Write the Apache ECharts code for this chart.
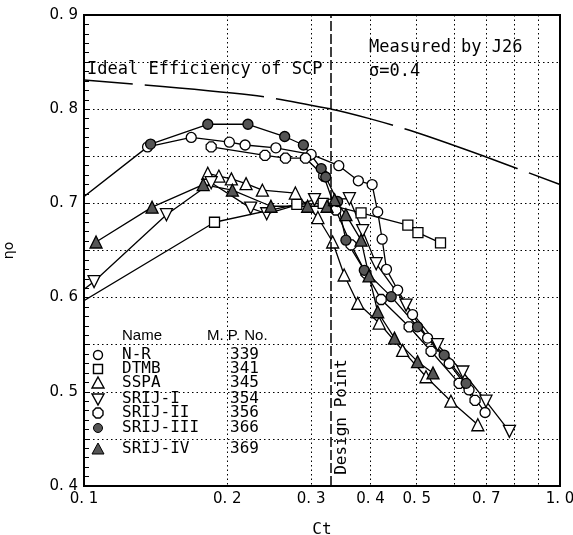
<!DOCTYPE html>
<html>
<head>
<meta charset="utf-8">
<script src="https://cdn.jsdelivr.net/npm/echarts@6/dist/echarts.min.js"></script>
<style>
html,body{margin:0;padding:0;background:#fff;}
#chart{width:573px;height:535px;}
</style>
</head>
<body>
<div id="chart"></div>
<script>
// axis ticks
var xGrid = [0.1, 0.2, 0.3, 0.4, 0.5, 0.6, 0.7, 0.8, 0.9, 1.0];
var xLabels = [0.1, 0.2, 0.3, 0.4, 0.5, 0.7, 1.0];
var designCt = 0.332;

// ideal efficiency of SCP
var idealCt  = [0.1, 0.224, 0.331, 0.398, 0.494, 0.693, 1.0];
var idealEta = [0.831, 0.815, 0.800, 0.790, 0.776, 0.750, 0.720];

// measured series (Ct, eta)
var nrCt  = [0.092, 0.136, 0.168, 0.202, 0.218, 0.253, 0.300, 0.343, 0.377, 0.403, 0.414, 0.423, 0.432, 0.456, 0.490, 0.527, 0.585, 0.644, 0.696];
var nrEta = [0.693, 0.760, 0.770, 0.765, 0.762, 0.759, 0.752, 0.740, 0.724, 0.720, 0.691, 0.662, 0.630, 0.608, 0.582, 0.557, 0.530, 0.502, 0.478];

var dtmbCt  = [0.09, 0.188, 0.280, 0.318, 0.382, 0.479, 0.503, 0.561];
var dtmbEta = [0.583, 0.680, 0.699, 0.700, 0.690, 0.677, 0.669, 0.658];

var sspaCt  = [0.182, 0.192, 0.204, 0.219, 0.237, 0.278, 0.310, 0.333, 0.352, 0.376, 0.417, 0.467, 0.523, 0.590, 0.672];
var sspaEta = [0.732, 0.729, 0.726, 0.721, 0.714, 0.711, 0.685, 0.659, 0.624, 0.594, 0.573, 0.544, 0.516, 0.490, 0.465];

var srij1Ct  = [0.095, 0.105, 0.149, 0.185, 0.224, 0.242, 0.305, 0.361, 0.385, 0.411, 0.475, 0.553, 0.625, 0.699, 0.783];
var srij1Eta = [0.600, 0.617, 0.688, 0.722, 0.695, 0.689, 0.704, 0.705, 0.671, 0.636, 0.592, 0.550, 0.521, 0.490, 0.458];

var srij2Ct  = [0.185, 0.240, 0.265, 0.292, 0.319, 0.338, 0.364, 0.391, 0.421, 0.482, 0.536, 0.614, 0.663];
var srij2Eta = [0.760, 0.751, 0.748, 0.748, 0.729, 0.693, 0.656, 0.626, 0.598, 0.569, 0.543, 0.509, 0.491];

var srij3Ct  = [0.138, 0.182, 0.221, 0.264, 0.289, 0.315, 0.322, 0.341, 0.355, 0.388, 0.442, 0.502, 0.571, 0.635];
var srij3Eta = [0.763, 0.784, 0.784, 0.771, 0.762, 0.737, 0.728, 0.702, 0.661, 0.629, 0.601, 0.569, 0.539, 0.509];

var srij4Ct  = [0.106, 0.139, 0.178, 0.205, 0.247, 0.295, 0.324, 0.336, 0.355, 0.382, 0.397, 0.414, 0.449, 0.502, 0.541];
var srij4Eta = [0.659, 0.696, 0.720, 0.714, 0.697, 0.697, 0.697, 0.704, 0.688, 0.661, 0.623, 0.585, 0.557, 0.532, 0.520];

var names = ['N-R', 'DTMB', 'SSPA', 'SRIJ-I', 'SRIJ-II', 'SRIJ-III', 'SRIJ-IV'];
var mpNos = ['339', '341', '345', '354', '356', '366', '369'];

function zip(a, b) {
    var out = [];
    for (var i = 0; i < a.length; i++) out.push([a[i], b[i]]);
    return out;
}
function fmt(v) {
    return v.toFixed(1).replace('.', '. ');
}

var octagon = 'path://M3,0 L7,0 L10,3 L10,7 L7,10 L3,10 L0,7 L0,3 Z';
var gray = '#555';

function measured(name, ct, eta, symbol, fill, size, rot) {
    return {
        name: name,
        type: 'line',
        data: zip(ct, eta),
        symbol: symbol,
        symbolSize: size,
        symbolRotate: rot || 0,
        showAllSymbol: true,
        clip: true,
        lineStyle: {color: '#000', width: 1.3},
        itemStyle: {color: fill, borderColor: '#000', borderWidth: 1.3}
    };
}

var myChart = echarts.init(document.getElementById('chart'));

var mono = 'DejaVu Sans Mono';
var legendY = [355, 369, 383, 399, 413, 428, 449];
var legendX = 98;

function legendMark(i, y) {
    var s = {stroke: '#000', lineWidth: 1.4, fill: '#fff'};
    var x = legendX;
    if (i == 0) return {type: 'circle', shape: {cx: x, cy: y, r: 4.5}, style: s};
    if (i == 1) return {type: 'rect', shape: {x: x - 4.5, y: y - 4.5, width: 9, height: 9}, style: s};
    if (i == 2) return {type: 'polygon', shape: {points: [[x, y - 6], [x + 6, y + 5], [x - 6, y + 5]]}, style: s};
    if (i == 3) return {type: 'polygon', shape: {points: [[x - 6, y - 5], [x + 6, y - 5], [x, y + 6]]}, style: s};
    if (i == 4) return {type: 'polygon', shape: {points: [[x - 2, y - 5], [x + 2, y - 5], [x + 5, y - 2], [x + 5, y + 2], [x + 2, y + 5], [x - 2, y + 5], [x - 5, y + 2], [x - 5, y - 2]]}, style: s};
    if (i == 5) return {type: 'circle', shape: {cx: x, cy: y, r: 4.5}, style: {stroke: '#000', lineWidth: 1, fill: gray}};
    return {type: 'polygon', shape: {points: [[x, y - 6], [x + 6, y + 5], [x - 6, y + 5]]}, style: {stroke: '#000', lineWidth: 1, fill: gray}};
}

var graphics = [
    {type: 'text', left: 87, top: 61, style: {text: 'Ideal Efficiency of SCP', font: '17px "' + mono + '"', fill: '#000'}},
    {type: 'text', left: 369, top: 39, style: {text: 'Measured by J26', font: '17px "' + mono + '"', fill: '#000'}},
    {type: 'text', left: 369, top: 63, style: {text: 'σ=0.4', font: '17px "' + mono + '"', fill: '#000'}},
    {type: 'text', x: 342, y: 417, rotation: Math.PI / 2, style: {text: 'Design Point', font: '16px "' + mono + '"', fill: '#000', align: 'center', verticalAlign: 'middle'}},
    {type: 'text', left: 122, top: 328, style: {text: 'Name', font: '15px "Liberation Sans"', fill: '#000'}},
    {type: 'text', left: 207, top: 328, style: {text: 'M. P. No.', font: '15px "Liberation Sans"', fill: '#000'}}
];
for (var i = 0; i < names.length; i++) {
    graphics.push(legendMark(i, legendY[i]));
    graphics.push({type: 'text', x: 122, y: legendY[i], style: {text: names[i], font: '16px "' + mono + '"', fill: '#000', verticalAlign: 'middle'}});
    graphics.push({type: 'text', x: 230, y: legendY[i], style: {text: mpNos[i], font: '16px "' + mono + '"', fill: '#000', verticalAlign: 'middle'}});
}

var option = {
    animation: false,
    backgroundColor: '#fff',
    grid: {left: 84, top: 15, width: 476, height: 471, outerBoundsMode: 'none', containLabel: false, show: true, borderColor: '#000', borderWidth: 2, backgroundColor: 'transparent'},
    xAxis: {
        type: 'log',
        logBase: 10,
        min: 0.1,
        max: 1.0,
        name: 'Ct',
        nameLocation: 'middle',
        nameGap: 36,
        nameTextStyle: {fontFamily: mono, fontSize: 16, color: '#000'},
        axisLine: {lineStyle: {color: '#000', width: 2}},
        axisTick: {show: false, customValues: xGrid},
        axisLabel: {customValues: xLabels, formatter: fmt, fontFamily: 'DejaVu Sans', fontSize: 15, color: '#000', margin: 6},
        splitLine: {show: true, lineStyle: {color: '#000', type: [1.5, 3], width: 1}},
        minorTick: {show: false},
        minorSplitLine: {show: false}
    },
    yAxis: {
        type: 'value',
        min: 0.4,
        max: 0.9,
        interval: 0.05,
        name: 'ηo',
        nameLocation: 'middle',
        nameRotate: 90,
        nameGap: 68,
        nameTextStyle: {fontFamily: 'DejaVu Sans', fontSize: 14, color: '#000'},
        axisLine: {lineStyle: {color: '#000', width: 2}},
        axisTick: {inside: true, length: 5, lineStyle: {color: '#000'}},
        minorTick: {show: true, splitNumber: 5, length: 5, lineStyle: {color: '#000'}},
        axisLabel: {
            fontFamily: 'DejaVu Sans', fontSize: 15, color: '#000', margin: 6,
            formatter: function (v) {
                var k = Math.round(v * 100);
                if (k % 10 !== 0) return '';
                return fmt(k / 100);
            }
        },
        splitLine: {show: true, lineStyle: {color: '#000', type: [1.5, 3], width: 1}}
    },
    graphic: graphics,
    series: [
        {
            name: 'Ideal',
            type: 'line',
            data: zip(idealCt, idealEta),
            smooth: 0.3,
            symbol: 'none',
            lineStyle: {color: '#000', width: 1.5, type: [120, 12], dashOffset: 71},
            markLine: {
                silent: true,
                symbol: 'none',
                label: {show: false},
                lineStyle: {color: '#000', width: 1.5, type: [10, 3]},
                data: [{xAxis: designCt}]
            }
        },
        measured('N-R', nrCt, nrEta, 'circle', '#fff', 10),
        measured('DTMB', dtmbCt, dtmbEta, 'rect', '#fff', 10),
        measured('SSPA', sspaCt, sspaEta, 'triangle', '#fff', 12),
        measured('SRIJ-I', srij1Ct, srij1Eta, 'triangle', '#fff', 12, 180),
        measured('SRIJ-II', srij2Ct, srij2Eta, octagon, '#fff', 10),
        measured('SRIJ-III', srij3Ct, srij3Eta, 'circle', gray, 10),
        measured('SRIJ-IV', srij4Ct, srij4Eta, 'triangle', gray, 12)
    ]
};
myChart.setOption(option);
</script>
</body>
</html>
